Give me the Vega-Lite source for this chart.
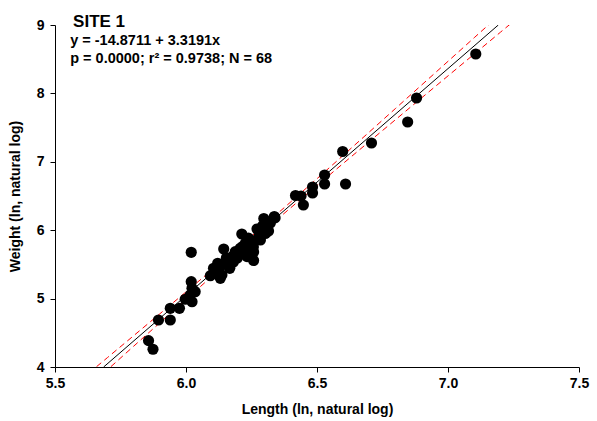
{
  "$schema": "https://vega.github.io/schema/vega-lite/v6.json",
  "width": 524,
  "height": 342,
  "autosize": {"type": "none"},
  "padding": {"left": 55, "top": 25, "right": 18, "bottom": 54},
  "background": "white",
  "config": {
    "view": {"stroke": null},
    "font": "Liberation Sans",
    "axis": {
      "grid": false,
      "labelFlush": false,
      "labelOverlap": false,
      "domainColor": "black",
      "tickColor": "black",
      "labelColor": "black",
      "titleColor": "black",
      "labelFont": "Liberation Sans",
      "titleFont": "Liberation Sans",
      "labelFontWeight": "bold",
      "titleFontWeight": "bold",
      "labelFontSize": 14,
      "titleFontSize": 14,
      "tickSize": 5
    }
  },
  "datasets": {
    "pts": [
      {"x": 7.106, "y": 8.576}, {"x": 6.880, "y": 7.933}, {"x": 6.846, "y": 7.582}, {"x": 6.708, "y": 7.275},
      {"x": 6.598, "y": 7.151}, {"x": 6.609, "y": 6.675}, {"x": 6.529, "y": 6.807}, {"x": 6.529, "y": 6.675},
      {"x": 6.483, "y": 6.632}, {"x": 6.483, "y": 6.544}, {"x": 6.418, "y": 6.507}, {"x": 6.439, "y": 6.500},
      {"x": 6.448, "y": 6.368}, {"x": 6.337, "y": 6.200}, {"x": 6.297, "y": 6.171}, {"x": 6.292, "y": 6.061},
      {"x": 6.315, "y": 5.988}, {"x": 6.271, "y": 6.018}, {"x": 6.284, "y": 5.857}, {"x": 6.303, "y": 5.952},
      {"x": 6.213, "y": 5.944}, {"x": 6.227, "y": 5.813}, {"x": 6.257, "y": 5.754}, {"x": 6.258, "y": 5.681},
      {"x": 6.258, "y": 5.557}, {"x": 6.207, "y": 5.735}, {"x": 6.188, "y": 5.686}, {"x": 6.176, "y": 5.613},
      {"x": 6.144, "y": 5.725}, {"x": 6.167, "y": 5.443}, {"x": 6.121, "y": 5.516}, {"x": 6.137, "y": 5.345},
      {"x": 6.093, "y": 5.335}, {"x": 6.105, "y": 5.443}, {"x": 6.233, "y": 5.613}, {"x": 6.020, "y": 5.677},
      {"x": 6.020, "y": 5.247}, {"x": 6.023, "y": 5.151}, {"x": 6.016, "y": 5.053}, {"x": 6.023, "y": 4.955},
      {"x": 6.035, "y": 5.101}, {"x": 5.997, "y": 4.990}, {"x": 5.975, "y": 4.858}, {"x": 5.940, "y": 4.858},
      {"x": 5.940, "y": 4.687}, {"x": 5.895, "y": 4.687}, {"x": 5.857, "y": 4.385}, {"x": 5.874, "y": 4.259},
      {"x": 6.131, "y": 5.297}, {"x": 6.196, "y": 5.594}, {"x": 6.158, "y": 5.535}, {"x": 6.219, "y": 5.711},
      {"x": 6.238, "y": 5.886}, {"x": 6.154, "y": 5.594}, {"x": 6.181, "y": 5.535}, {"x": 6.246, "y": 5.667},
      {"x": 6.322, "y": 6.105}, {"x": 6.200, "y": 5.650}, {"x": 6.170, "y": 5.580}, {"x": 6.215, "y": 5.760},
      {"x": 6.265, "y": 5.850}, {"x": 6.280, "y": 5.950}, {"x": 6.130, "y": 5.460}, {"x": 6.110, "y": 5.380},
      {"x": 6.250, "y": 5.800}, {"x": 6.190, "y": 5.640}, {"x": 6.300, "y": 6.050}, {"x": 6.340, "y": 6.180}
    ],
    "fit": [
      {"x": 5.6856, "y": 4.0}, {"x": 7.1920, "y": 9.0}
    ],
    "band": [
      {"x": 5.6, "lo": 3.614, "hi": 3.818}, {"x": 5.7, "lo": 3.959, "hi": 4.137},
      {"x": 5.8, "lo": 4.303, "hi": 4.457}, {"x": 5.9, "lo": 4.646, "hi": 4.777},
      {"x": 6.0, "lo": 4.989, "hi": 5.098}, {"x": 6.1, "lo": 5.329, "hi": 5.422},
      {"x": 6.2, "lo": 5.667, "hi": 5.748}, {"x": 6.3, "lo": 6.000, "hi": 6.078},
      {"x": 6.4, "lo": 6.329, "hi": 6.414}, {"x": 6.5, "lo": 6.654, "hi": 6.753},
      {"x": 6.6, "lo": 6.976, "hi": 7.094}, {"x": 6.7, "lo": 7.297, "hi": 7.437},
      {"x": 6.8, "lo": 7.617, "hi": 7.781}, {"x": 6.9, "lo": 7.937, "hi": 8.125},
      {"x": 7.0, "lo": 8.256, "hi": 8.469}, {"x": 7.1, "lo": 8.575, "hi": 8.814},
      {"x": 7.2, "lo": 8.894, "hi": 9.159}, {"x": 7.3, "lo": 9.212, "hi": 9.505}
    ],
    "labels": [
      {"x": 5.569, "y": 8.97, "t": "SITE 1", "s": 17},
      {"x": 5.558, "y": 8.71, "t": "y = -14.8711 + 3.3191x", "s": 14.5},
      {"x": 5.558, "y": 8.445, "t": "p = 0.0000; r² = 0.9738; N = 68", "s": 14.5}
    ]
  },
  "layer": [
    {
      "data": {"name": "band"},
      "mark": {"type": "line", "color": "#ff0000", "strokeWidth": 1, "strokeDash": [6, 4], "clip": true},
      "encoding": {
        "x": {"field": "x", "type": "quantitative", "scale": {"domain": [5.5, 7.5], "nice": false, "zero": false},
          "axis": {"title": "Length (ln, natural log)", "values": [5.5, 6.0, 6.5, 7.0, 7.5], "format": ".1f", "titlePadding": 12, "labelPadding": 4}},
        "y": {"field": "lo", "type": "quantitative", "scale": {"domain": [4, 9], "nice": false, "zero": false},
          "axis": {"title": "Weight (ln, natural log)", "values": [4, 5, 6, 7, 8, 9], "format": "d", "titlePadding": 14, "labelPadding": 6}}
      }
    },
    {
      "data": {"name": "band"},
      "mark": {"type": "line", "color": "#ff0000", "strokeWidth": 1, "strokeDash": [6, 4], "clip": true},
      "encoding": {
        "x": {"field": "x", "type": "quantitative"},
        "y": {"field": "hi", "type": "quantitative"}
      }
    },
    {
      "data": {"name": "fit"},
      "mark": {"type": "line", "color": "black", "strokeWidth": 1, "clip": true},
      "encoding": {
        "x": {"field": "x", "type": "quantitative"},
        "y": {"field": "y", "type": "quantitative"}
      }
    },
    {
      "data": {"name": "pts"},
      "mark": {"type": "point", "filled": true, "color": "black", "opacity": 1, "size": 125},
      "encoding": {
        "x": {"field": "x", "type": "quantitative"},
        "y": {"field": "y", "type": "quantitative"}
      }
    },
    {
      "data": {"name": "labels"},
      "mark": {"type": "text", "align": "left", "baseline": "alphabetic", "fontWeight": "bold", "font": "Liberation Sans", "color": "black"},
      "encoding": {
        "x": {"field": "x", "type": "quantitative"},
        "y": {"field": "y", "type": "quantitative"},
        "text": {"field": "t"},
        "size": {"field": "s", "type": "quantitative", "scale": null}
      }
    }
  ]
}
